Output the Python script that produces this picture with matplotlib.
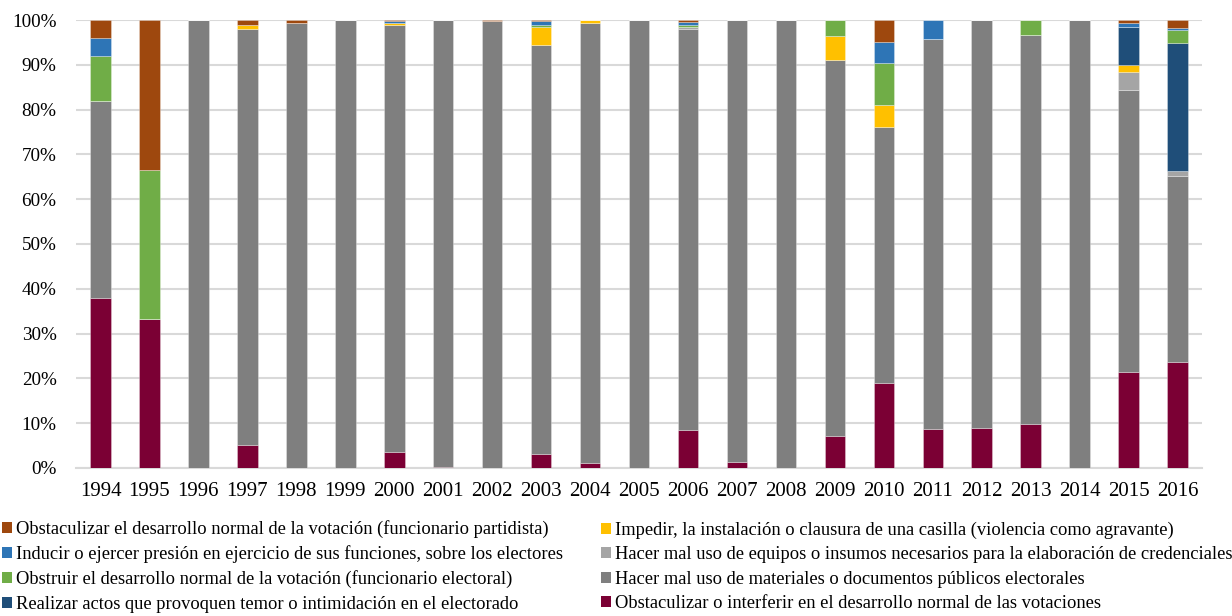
import numpy as np
import matplotlib
matplotlib.use('Agg')
from matplotlib import pyplot as plt
from matplotlib.patches import Patch
from matplotlib.ticker import FuncFormatter

plt.rcParams['font.family'] = ['Liberation Serif', 'DejaVu Serif']

years = [str(y) for y in range(1994, 2017)]

# porcentajes por año (de abajo hacia arriba en la pila)
obst_interferir = [38, 33.3, 0, 5.1, 0, 0, 3.5, 0.3, 0, 3.1, 1.1, 0, 8.4, 1.3, 0, 7.1, 18.9, 8.6, 9.0, 9.9, 0, 21.5, 23.7]
mal_uso_materiales = [44, 0, 100, 92.8, 99.3, 100, 95.3, 99.7, 99.7, 91.25, 98.3, 100, 89.7, 98.7, 100, 84.0, 57.3, 87.1, 91.0, 86.8, 100, 62.9, 41.5]
mal_uso_equipos = [0, 0, 0, 0, 0, 0, 0, 0, 0, 0, 0, 0, 0.3, 0, 0, 0, 0, 0, 0, 0, 0, 4.1, 1.1]
impedir = [0, 0, 0, 1.0, 0, 0, 0.6, 0, 0, 4.1, 0.6, 0, 0, 0, 0, 5.3, 4.8, 0, 0, 0, 0, 1.4, 0]
realizar_actos = [0, 0, 0, 0, 0, 0, 0, 0, 0, 0, 0, 0, 0, 0, 0, 0, 0, 0, 0, 0, 0, 8.6, 28.6]
obstruir = [10, 33.3, 0, 0, 0, 0, 0, 0, 0, 0.5, 0, 0, 0.5, 0, 0, 3.6, 9.5, 0, 0, 3.3, 0, 0, 2.9]
inducir = [4, 0, 0, 0, 0, 0, 0.3, 0, 0, 0.75, 0, 0, 0.6, 0, 0, 0, 4.7, 4.3, 0, 0, 0, 0.8, 0.4]
obst_partidista = [4, 33.4, 0, 1.1, 0.7, 0, 0.3, 0, 0.3, 0.3, 0, 0, 0.5, 0, 0, 0, 4.8, 0, 0, 0, 0, 0.7, 1.8]

series = [
    ('Obstaculizar o interferir en el desarrollo normal de las votaciones', obst_interferir, '#7B0034'),
    ('Hacer mal uso de materiales o documentos públicos electorales', mal_uso_materiales, '#7F7F7F'),
    ('Hacer mal uso de equipos o insumos necesarios para la elaboración de credenciales', mal_uso_equipos, '#A5A5A5'),
    ('Impedir, la instalación o clausura de una casilla (violencia como agravante)', impedir, '#FFC000'),
    ('Realizar actos que provoquen temor o intimidación en el electorado', realizar_actos, '#1F4E79'),
    ('Obstruir el desarrollo normal de la votación (funcionario electoral)', obstruir, '#70AD47'),
    ('Inducir o ejercer presión en ejercicio de sus funciones, sobre los electores', inducir, '#2E75B6'),
    ('Obstaculizar el desarrollo normal de la votación (funcionario partidista)', obst_partidista, '#9E480E'),
]

fig = plt.figure(figsize=(12.32, 6.16), dpi=100)
ax = fig.add_axes([0.0617, 0.2403, 0.9140, 0.7272])

x = np.arange(len(years))
bottom = np.zeros(len(years))
for name, vals, col in series:
    vals = np.array(vals, dtype=float)
    ax.bar(x, vals, 0.42, bottom=bottom, color=col, edgecolor=(1, 1, 1, 0.35), linewidth=0.6, zorder=3)
    bottom += vals

ax.set_xlim(-0.5, len(years) - 0.5)
ax.set_ylim(0, 100)
ax.set_yticks(np.arange(0, 101, 10))
ax.yaxis.set_major_formatter(FuncFormatter(lambda v, p: '%d%%' % v))
ax.set_xticks(x)
ax.set_xticklabels(years)
ax.grid(axis='y', color='#D9D9D9', linewidth=1.5, zorder=0)
for s in ['left', 'right', 'top']:
    ax.spines[s].set_visible(False)
ax.spines['bottom'].set_color('#D9D9D9')
ax.spines['bottom'].set_linewidth(1.5)
ax.tick_params(length=0, colors='#000000')
ax.tick_params(axis='y', pad=14, labelsize=13.8)
ax.tick_params(axis='x', pad=10, labelsize=15)

# leyenda en dos columnas (orden inverso a la pila)
handles = [Patch(facecolor=c, label=n) for n, v, c in series[::-1]]
leg_kw = dict(loc='upper left', frameon=False, fontsize=13.3, handlelength=0.55, handleheight=0.55,
              handletextpad=0.2, labelspacing=0.4, borderaxespad=0, borderpad=0)
leg1 = fig.legend(handles=handles[:4], bbox_to_anchor=(2 / 1232, 0.156), **leg_kw)
leg2 = fig.legend(handles=handles[4:], bbox_to_anchor=(601 / 1232, 0.153), **leg_kw)

fig.savefig('out.png', dpi=100)
